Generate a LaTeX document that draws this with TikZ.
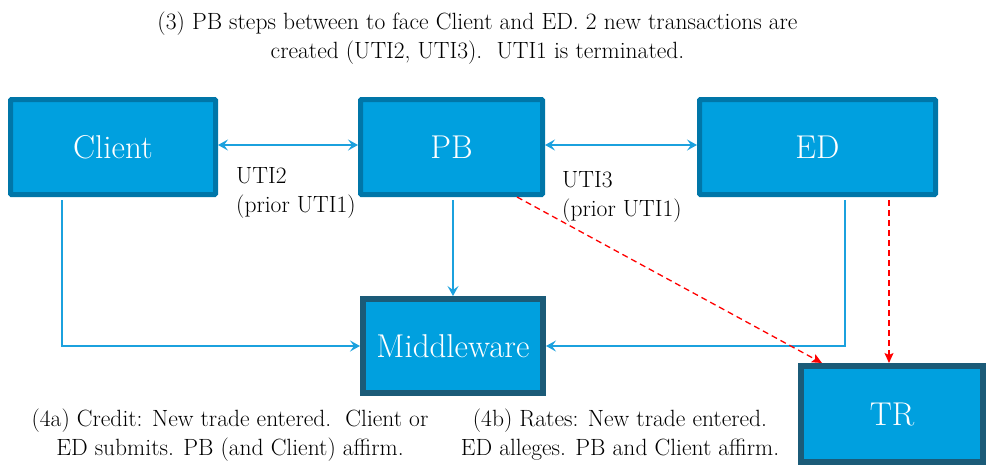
\documentclass[tikz,border=0pt]{standalone}
\usepackage{fontspec}
\usetikzlibrary{arrows.meta,calc}
\definecolor{boxfill}{HTML}{00A0DF}
\definecolor{boxedge}{HTML}{0076A8}
\definecolor{boxdark}{HTML}{1B5B78}
\definecolor{lineblue}{HTML}{1BA1DE}
\begin{document}
\begin{tikzpicture}[x=1pt,y=-1pt,
  topbox/.style={draw=boxedge,fill=boxfill,line width=5pt,text=white,
    font=\fontsize{33}{33}\selectfont,inner sep=0pt,rounded corners=1pt},
  botbox/.style={draw=boxdark,fill=boxfill,line width=6pt,text=white,
    font=\fontsize{33}{33}\selectfont,inner sep=0pt},
  conn/.style={draw=lineblue,line width=1.3pt,-{Stealth[length=10pt,width=11pt,inset=4pt]}},
  biconn/.style={draw=lineblue,line width=1.3pt,{Stealth[length=10pt,width=11pt,inset=4pt]}-{Stealth[length=10pt,width=11pt,inset=4pt]}},
  redconn/.style={draw=red,dashed,dash pattern=on 6pt off 4pt,line width=1.3pt,-{Stealth[length=10pt,width=9pt,inset=2pt]}},
  lbl/.style={font=\fontsize{23.5}{29}\selectfont,inner sep=0pt,text=black}
]
\useasboundingbox (0,0) rectangle (989,466);

\node[topbox,minimum width=205pt,minimum height=95pt] (Client) at (113,147) {Client};
\node[topbox,minimum width=182pt,minimum height=95pt] (PB) at (451.5,147) {PB};
\node[topbox,minimum width=236pt,minimum height=95pt] (ED) at (817.5,147) {ED};
\node[botbox,minimum width=180pt,minimum height=94pt] (Middleware) at (453,346) {Middleware};
\node[botbox,minimum width=182pt,minimum height=96pt] (TR) at (892,414) {TR};

\node[lbl,align=center] (title) at (477.5,38) {(3) PB steps between to face Client and ED. 2 new transactions are\\created (UTI2, UTI3).\ \ UTI1 is terminated.};
\node[lbl,align=left,anchor=west] (uti2) at (236,193) {UTI2\\(prior UTI1)};
\node[lbl,align=left,anchor=west] (uti3) at (562,197) {UTI3\\(prior UTI1)};
\node[lbl,align=center] (n4a) at (230,435) {(4a) Credit: New trade entered.\ \ Client or\\ED submits. PB (and Client) affirm.};
\node[lbl,align=center] (n4b) at (620,435) {(4b) Rates: New trade entered.\\ED alleges. PB and Client affirm.};

\draw[biconn] (Client.east |- 0,145) -- (PB.west |- 0,145);
\draw[biconn] (PB.east |- 0,145) -- (ED.west |- 0,145);

\coordinate (cl) at ([xshift=54pt,yshift=-3pt]Client.south west);
\draw[conn] (cl) |- (Middleware.west);
\coordinate (pbs) at ([xshift=1.5pt,yshift=-3pt]PB.south);
\draw[conn] (pbs) -- (pbs |- Middleware.north);
\coordinate (eds) at ([xshift=148pt,yshift=-3pt]ED.south west);
\draw[conn] (eds) |- (Middleware.east);

\coordinate (pbr) at ([xshift=-28pt]PB.south east);
\draw[redconn] (pbr) -- ([xshift=24pt]TR.north west);
\coordinate (edr) at ([xshift=-49pt,yshift=-3pt]ED.south east);
\draw[redconn] (edr) -- (edr |- TR.north);
\end{tikzpicture}
\end{document}
